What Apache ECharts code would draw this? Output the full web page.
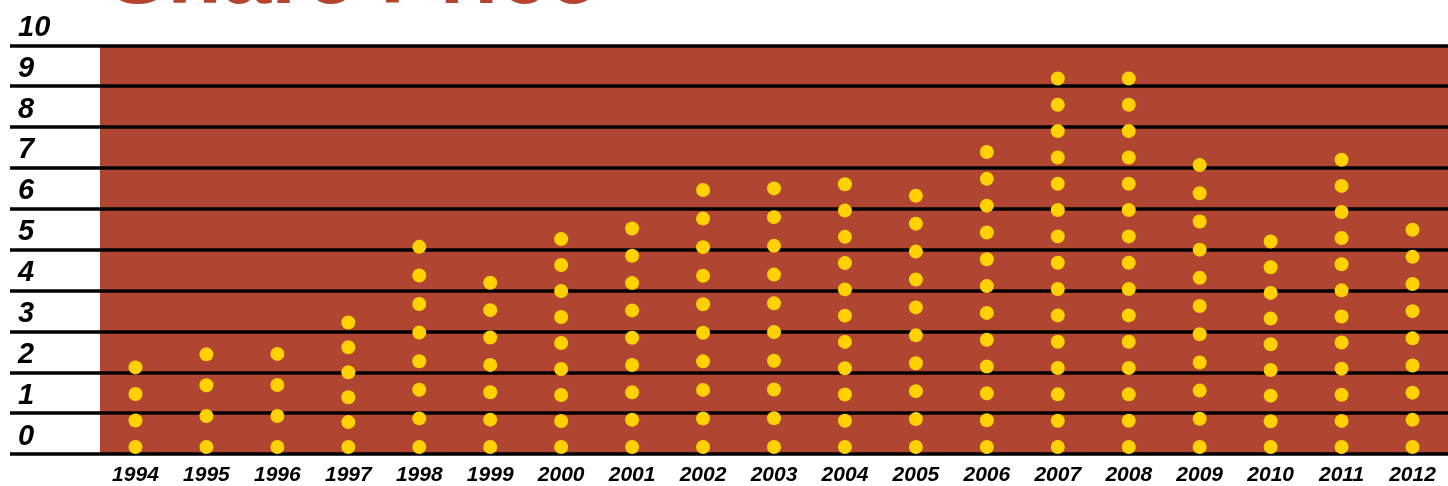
<!DOCTYPE html>
<html>
<head>
<meta charset="utf-8">
<script src="https://cdn.jsdelivr.net/npm/echarts@6/dist/echarts.min.js"></script>
<style>
html,body{margin:0;padding:0;background:#fff;}
#chart{width:1448px;height:486px;}
</style>
</head>
<body>
<div id="chart"></div>
<script>
const years = ['1994','1995','1996','1997','1998','1999','2000','2001','2002','2003','2004','2005','2006','2007','2008','2009','2010','2011','2012'];
const sharePrice = [2.29, 2.61, 2.62, 3.39, 5.24, 4.36, 5.43, 5.69, 6.63, 6.67, 6.77, 6.49, 7.56, 9.36, 9.36, 7.24, 5.37, 7.37, 5.66];
const dotCount = [4, 4, 4, 6, 8, 7, 9, 9, 10, 10, 11, 10, 12, 15, 15, 11, 9, 12, 9];
const yTicks = [0, 1, 2, 3, 4, 5, 6, 7, 8, 9, 10];

const FONT = '"Liberation Sans", Arial, sans-serif';
const RED = '#b04532';
const GOLD = '#ffd100';

const chart = echarts.init(document.getElementById('chart'), null, {renderer: 'canvas'});
chart.setOption({
  animation: false,
  backgroundColor: '#ffffff',
  title: {
    text: 'Share Price',
    left: 103,
    top: -71,
    textStyle: {
      fontFamily: FONT,
      fontWeight: 'bold',
      fontSize: 89,
      color: '#b5442f'
    }
  },
  grid: {
    left: 100,
    top: 45.3,
    width: 1360,
    height: 414,
    show: true,
    backgroundColor: RED,
    borderWidth: 0
  },
  xAxis: {
    type: 'category',
    data: years,
    axisLine: {show: false},
    axisTick: {show: false},
    axisLabel: {
      interval: 0,
      margin: 11,
      fontFamily: FONT,
      fontWeight: 'bold',
      fontStyle: 'italic',
      fontSize: 21,
      color: '#000'
    }
  },
  yAxis: {
    type: 'value',
    min: yTicks[0],
    max: yTicks[yTicks.length - 1],
    interval: 1,
    axisLine: {show: false},
    axisTick: {
      show: true,
      length: 90,
      lineStyle: {color: '#000', width: 3.5}
    },
    splitLine: {
      show: true,
      lineStyle: {color: '#000', width: 3.5}
    },
    axisLabel: {
      showMinLabel: true,
      showMaxLabel: true,
      align: 'left',
      verticalAlign: 'bottom',
      margin: 82,
      padding: [0, 0, 3, 0],
      fontFamily: FONT,
      fontWeight: 'bold',
      fontStyle: 'italic',
      fontSize: 29,
      color: '#000',
      formatter: function (v) { return String(v); }
    }
  },
  series: [{
    type: 'pictorialBar',
    symbol: 'circle',
    symbolSize: [14, 14],
    itemStyle: {color: GOLD},
    z: 5,
    data: sharePrice.map(function (v, i) {
      return {value: v, symbolRepeat: dotCount[i], symbolBoundingData: v};
    })
  }]
});
</script>
</body>
</html>
